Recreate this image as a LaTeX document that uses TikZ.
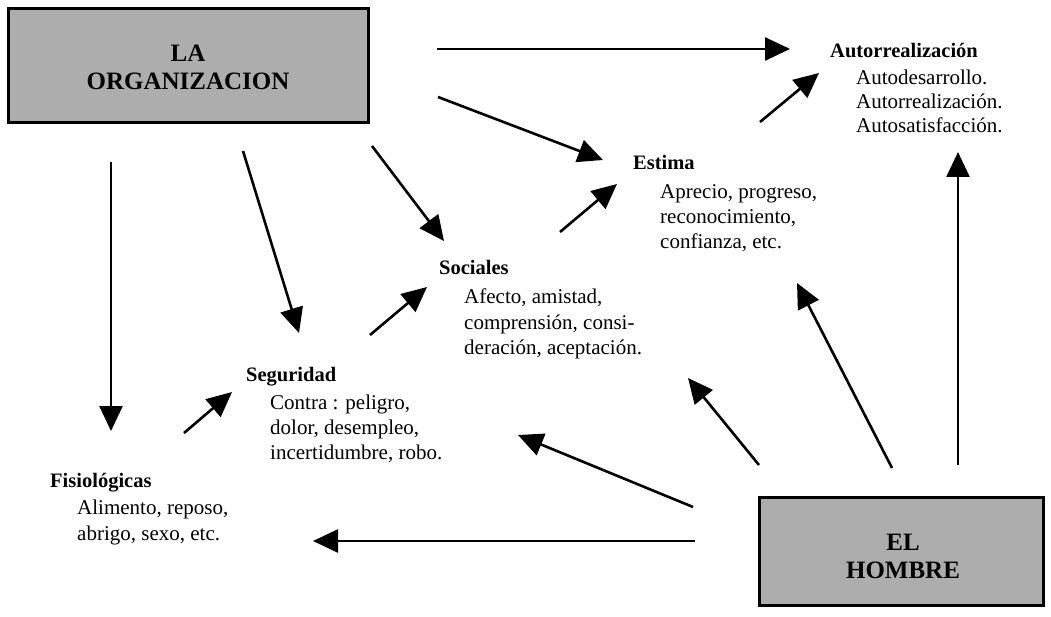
\documentclass[tikz,border=0pt]{standalone}
\usepackage{fontspec}
\setmainfont{Liberation Serif}
\usetikzlibrary{arrows.meta}
\begin{document}
\begin{tikzpicture}[x=1pt,y=-1pt,
  flecha/.style={line width=2.6pt,-{Triangle[length=25pt,width=23pt]}},
  caja/.style={draw,line width=3.5pt,fill=black!32,inner sep=0pt},
  rotulo/.style={align=center,inner sep=0pt,font=\fontsize{25}{28}\selectfont\bfseries},
  titulo/.style={anchor=base west,inner sep=0pt,font=\fontsize{20.5}{24}\selectfont\bfseries},
  texto/.style={anchor=base west,inner sep=0pt,font=\fontsize{21}{25}\selectfont}]
\useasboundingbox (0,0) rectangle (1051,617);

% the two boxes
\node[caja,minimum width=360pt,minimum height=114pt] (org) at (188.5,65.5) {};
\node[rotulo] (orgtxt) at (188,67) {LA\\ORGANIZACION};
\node[caja,minimum width=284pt,minimum height=108pt] (hom) at (901.5,551.5) {};
\node[rotulo] (homtxt) at (903,556) {EL\\HOMBRE};

% need levels
\node[titulo] (autoT) at (830,58) {Autorrealización};
\node[texto] (auto1) at (856,85) {Autodesarrollo.};
\node[texto] (auto2) at (856,109) {Autorrealización.};
\node[texto] (auto3) at (856,133) {Autosatisfacción.};

\node[titulo] (estT) at (633,170) {Estima};
\node[texto] (est1) at (660,199) {Aprecio, progreso,};
\node[texto] (est2) at (660,224) {reconocimiento,};
\node[texto] (est3) at (660,249) {confianza, etc.};

\node[titulo] (socT) at (439,275) {Sociales};
\node[texto] (soc1) at (464,303) {Afecto, amistad,};
\node[texto] (soc2) at (464,329) {comprensión, consi-};
\node[texto] (soc3) at (464,354) {deración, aceptación.};

\node[titulo] (segT) at (246,381) {Seguridad};
\node[texto] (seg1) at (270,409) {Contra : peligro,};
\node[texto] (seg2) at (270,434) {dolor, desempleo,};
\node[texto] (seg3) at (270,459) {incertidumbre, robo.};

\node[titulo] (fisT) at (50,487) {Fisiológicas};
\node[texto] (fis1) at (77,514) {Alimento, reposo,};
\node[texto] (fis2) at (77,540) {abrigo, sexo, etc.};

% arrow end points
\coordinate (a1s) at (437,49);  \coordinate (a1e) at (790,49);
\coordinate (a2s) at (438,97);  \coordinate (a2e) at (603,160);
\coordinate (a3s) at (372,146); \coordinate (a3e) at (444,241);
\coordinate (a4s) at (243,151); \coordinate (a4e) at (299,333);
\coordinate (a5s) at (111,162); \coordinate (a5e) at (111,431);
\coordinate (a6s) at (184,433); \coordinate (a6e) at (232,392);
\coordinate (a7s) at (370,335); \coordinate (a7e) at (427,287);
\coordinate (a8s) at (560,232); \coordinate (a8e) at (617,184);
\coordinate (a9s) at (760,122); \coordinate (a9e) at (819,73);
\coordinate (a10s) at (958,465); \coordinate (a10e) at (958,152);
\coordinate (a11s) at (892,468); \coordinate (a11e) at (797,283);
\coordinate (a12s) at (759,465); \coordinate (a12e) at (688,378);
\coordinate (a13s) at (693,507); \coordinate (a13e) at (518,435);
\coordinate (a14s) at (695,541); \coordinate (a14e) at (313,541);

\foreach \i in {1,...,14}
  \draw[flecha] (a\i s) -- (a\i e);
\end{tikzpicture}
\end{document}
